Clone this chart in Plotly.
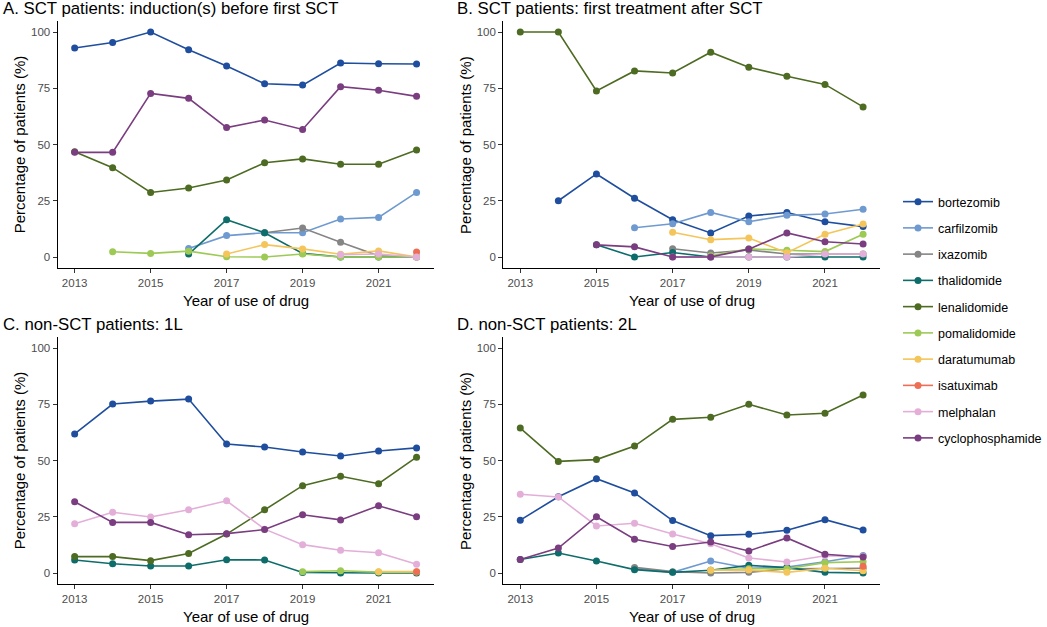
import plotly.graph_objects as go
from plotly.subplots import make_subplots

years = [2013, 2014, 2015, 2016, 2017, 2018, 2019, 2020, 2021, 2022]
drugs = ["bortezomib", "carfilzomib", "ixazomib", "thalidomide", "lenalidomide",
         "pomalidomide", "daratumumab", "isatuximab", "melphalan", "cyclophosphamide"]
colors = ["#1F4E9E", "#6F9AD0", "#858585", "#0E6D6B", "#4D6B22",
          "#9DCA55", "#F4C55A", "#EE6E55", "#E3AFD8", "#7A3D80"]
N = None

panel_titles = ["A. SCT patients: induction(s) before first SCT",
                "B. SCT patients: first treatment after SCT",
                "C. non-SCT patients: 1L",
                "D. non-SCT patients: 2L"]
x_title = "Year of use of drug"
y_title = "Percentage of patients (%)"
x_ticks = [2013, 2015, 2017, 2019, 2021]
y_ticks = [0, 25, 50, 75, 100]

panel_a = {
    "bortezomib": [92.9, 95.3, 100, 92.1, 84.9, 77.0, 76.4, 86.2, 85.9, 85.8],
    "carfilzomib": [N, N, N, 3.8, 9.5, 10.8, 10.8, 16.9, 17.6, 28.7],
    "ixazomib": [N, N, N, N, N, 10.8, 12.9, 6.5, 0.5, 0],
    "thalidomide": [N, N, N, 1.3, 16.6, 10.8, 1.6, 0, 0, 0],
    "lenalidomide": [46.8, 39.7, 28.7, 30.7, 34.2, 41.9, 43.6, 41.2, 41.2, 47.6],
    "pomalidomide": [N, 2.3, 1.6, 2.6, 0.1, 0, 1.3, 0, 0, 0],
    "daratumumab": [N, N, N, N, 1.3, 5.5, 3.6, 1.2, 2.7, 0],
    "isatuximab": [N, N, N, N, N, N, N, N, N, 2.2],
    "melphalan": [N, N, N, N, N, N, N, 1.0, 1.3, 0],
    "cyclophosphamide": [46.5, 46.5, 72.7, 70.5, 57.5, 60.9, 56.7, 75.7, 74.1, 71.4],
}
panel_b = {
    "bortezomib": [N, 25.0, 36.9, 26.1, 16.6, 10.7, 18.2, 19.8, 15.7, 13.5],
    "carfilzomib": [N, N, N, 13.0, 14.8, 19.8, 15.7, 18.5, 19.1, 21.2],
    "ixazomib": [N, N, N, N, 3.7, 1.8, 3.1, 1.3, 1.3, 1.3],
    "thalidomide": [N, N, 5.4, 0, 2.0, 0, 0, 0, 0, 0],
    "lenalidomide": [100, 100, 73.8, 82.7, 81.8, 91.0, 84.3, 80.3, 76.7, 66.7],
    "pomalidomide": [N, N, N, N, N, 0.5, 3.6, 3.0, 2.4, 10.1],
    "daratumumab": [N, N, N, N, 11.0, 7.7, 8.4, 1.9, 10.1, 14.7],
    "isatuximab": [N] * 10,
    "melphalan": [N, N, N, N, 0, 0, 0, 0, 1.3, 1.3],
    "cyclophosphamide": [N, N, 5.4, 4.5, 0, 0, 3.5, 10.7, 6.8, 5.8],
}
panel_c = {
    "bortezomib": [61.8, 75.1, 76.4, 77.3, 57.3, 56.0, 53.8, 52.0, 54.2, 55.6],
    "carfilzomib": [N] * 10,
    "ixazomib": [N] * 10,
    "thalidomide": [5.8, 4.1, 3.1, 3.1, 5.9, 5.8, 0.2, 0, 0, 0],
    "lenalidomide": [7.3, 7.3, 5.5, 8.7, 17.3, 28.1, 38.8, 43.0, 39.7, 51.5],
    "pomalidomide": [N, N, N, N, N, N, 0.6, 1.0, 0.4, 0.4],
    "daratumumab": [N, N, N, N, N, N, N, N, 0.6, 0.6],
    "isatuximab": [N, N, N, N, N, N, N, N, N, 0.6],
    "melphalan": [21.9, 27.0, 24.9, 28.1, 32.1, 19.5, 12.6, 10.1, 9.0, 3.9],
    "cyclophosphamide": [31.7, 22.5, 22.5, 17.0, 17.5, 19.3, 25.9, 23.6, 29.9, 25.0],
}
panel_d = {
    "bortezomib": [23.5, 33.9, 41.9, 35.6, 23.3, 16.6, 17.2, 19.0, 23.7, 19.1],
    "carfilzomib": [N, N, N, 2.0, 0.3, 5.3, 2.1, 2.6, 5.0, 7.8],
    "ixazomib": [N, N, N, 2.5, 0.6, 0, 0.3, 1.9, 2.1, 2.1],
    "thalidomide": [6.0, 8.9, 5.3, 1.5, 0.3, 1.2, 3.4, 2.4, 0.3, 0],
    "lenalidomide": [64.4, 49.6, 50.4, 56.4, 68.3, 69.2, 75.0, 70.2, 71.0, 79.1],
    "pomalidomide": [N, N, N, N, N, 1.2, 1.9, 1.9, 4.6, 5.0],
    "daratumumab": [N, N, N, N, N, 1.2, 1.3, 0.3, 2.1, 1.0],
    "isatuximab": [N, N, N, N, N, N, N, N, N, 3.0],
    "melphalan": [35.0, 33.8, 20.9, 22.1, 17.3, 13.0, 6.7, 4.9, 7.7, 7.3],
    "cyclophosphamide": [6.0, 11.1, 25.0, 15.0, 11.8, 13.8, 9.8, 15.6, 8.3, 7.1],
}
panels = [panel_a, panel_b, panel_c, panel_d]
positions = [(1, 1), (1, 2), (2, 1), (2, 2)]

W, H = 1047, 627
FONT = "Arial, Liberation Sans, sans-serif"

fig = make_subplots(rows=2, cols=2)

for drug, col in zip(drugs, colors):
    shown = False
    for panel, (r, c) in zip(panels, positions):
        vals = panel[drug]
        if all(v is None for v in vals):
            continue
        fig.add_trace(go.Scatter(
            x=years, y=vals, mode="lines+markers", name=drug,
            legendgroup=drug, showlegend=not shown,
            line=dict(color=col, width=1.6),
            marker=dict(color=col, size=7),
            connectgaps=False, hoverinfo="x+y+name",
        ), row=r, col=c)
        shown = True

# panel geometry in pixels
x_doms = [(58, 437), (507, 887)]
y_doms = [(20.75, 268.25), (336.75, 584.25)]

def xd(a, b):
    return [a / W, b / W]

def yd(a, b):
    return [(H - b) / H, (H - a) / H]

axis_style = dict(showgrid=False, zeroline=False, showline=True, linecolor="black",
                  linewidth=1, ticks="outside", ticklen=4, tickcolor="#333333",
                  tickfont=dict(size=11.5, color="#4D4D4D", family=FONT))

for i, (r, c) in enumerate(positions):
    xa = x_doms[c - 1]
    ya = y_doms[r - 1]
    fig.update_xaxes(domain=xd(*xa), range=[2012.55, 2022.45], tickvals=x_ticks,
                     row=r, col=c, **axis_style)
    fig.update_yaxes(domain=yd(*ya), range=[-5, 105], tickvals=y_ticks,
                     row=r, col=c, **axis_style)

annotations = []
title_x = [1, 459]
title_y = [8, 324]
for i, (r, c) in enumerate(positions):
    xa = x_doms[c - 1]
    ya = y_doms[r - 1]
    annotations.append(dict(text=panel_titles[i], xref="paper", yref="paper",
                            x=title_x[c - 1] / W, y=(H - title_y[r - 1]) / H,
                            xanchor="left", yanchor="middle", showarrow=False,
                            font=dict(size=16.8, color="black", family=FONT)))
    annotations.append(dict(text=x_title, xref="paper", yref="paper",
                            x=(xa[0] + xa[1]) / 2 / W, y=(H - (ya[1] + 32)) / H,
                            xanchor="center", yanchor="middle", showarrow=False,
                            font=dict(size=15, color="black", family=FONT)))
    annotations.append(dict(text=y_title, xref="paper", yref="paper",
                            x=(xa[0] + 2 - 40) / W, y=(H - (ya[0] + ya[1]) / 2) / H,
                            xanchor="center", yanchor="middle", textangle=-90,
                            showarrow=False,
                            font=dict(size=15, color="black", family=FONT)))

fig.update_layout(
    width=W, height=H,
    margin=dict(l=0, r=0, t=0, b=0),
    paper_bgcolor="white", plot_bgcolor="white",
    annotations=annotations,
    showlegend=True,
    legend=dict(x=905 / W, y=(H - 187) / H, xanchor="left", yanchor="top",
                traceorder="grouped", tracegroupgap=7, itemwidth=30,
                font=dict(size=12.5, color="black", family=FONT),
                bgcolor="rgba(0,0,0,0)"),
    font=dict(family=FONT),
)

fig.write_html("out.html")
